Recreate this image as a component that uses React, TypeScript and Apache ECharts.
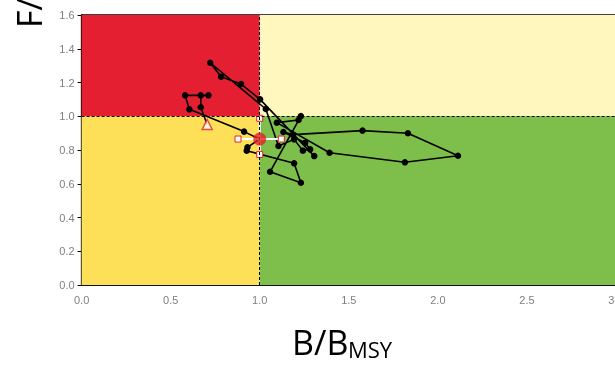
import { useEffect, useRef } from "react";
import * as echarts from "echarts";

// ---- data ----
const xTicks = [0, 0.5, 1, 1.5, 2, 2.5, 3];
const yTicks = [0, 0.2, 0.4, 0.6, 0.8, 1.0, 1.2, 1.4, 1.6];

// trajectory (B/Bmsy, F/Fmsy)
const trajB = [0.705, 0.669, 0.669, 0.712, 0.581, 0.605, 0.912, 1.0, 0.931, 0.927, 1.193, 1.231, 1.058, 1.231, 1.218, 1.096, 1.392, 1.815, 2.113, 1.832, 1.577, 1.186, 1.133, 1.255, 1.283, 1.242, 1.193, 1.105, 1.034, 0.722, 0.783, 0.895, 1.002, 1.306];
const trajF = [0.951, 1.053, 1.124, 1.124, 1.124, 1.041, 0.909, 0.865, 0.816, 0.796, 0.721, 0.606, 0.671, 1.001, 0.978, 0.962, 0.784, 0.727, 0.766, 0.899, 0.915, 0.891, 0.907, 0.843, 0.804, 0.796, 0.863, 0.824, 1.043, 1.317, 1.234, 1.191, 1.1, 0.764];

const startPoint = [0.705, 0.951];
const currentPoint = [1.0, 0.865];
const ciB = [0.878, 1.121];
const ciF = [0.774, 0.988];

const refB = 1.0;
const refF = 1.0;

export default function App() {
  const ref = useRef<HTMLDivElement>(null);
  useEffect(() => {
    if (!ref.current) return;
    const chart = echarts.init(ref.current, null, { renderer: "svg" });
    const trajData = trajB.map((b, i) => {
      const hide = i === 0 || i === 7;
      return hide ? { value: [b, trajF[i]], symbol: "none" } : { value: [b, trajF[i]] };
    });
    const labelStyle = {
      color: "#7f7f7f",
      fontSize: 11,
      fontFamily: "Liberation Sans, Arial, sans-serif",
    };
    chart.setOption({
      animation: false,
      grid: {
        left: 81.6,
        right: -1,
        top: 15,
        bottom: 80,
        show: true,
        borderColor: "#000",
        borderWidth: 1.5,
        containLabel: false,
        outerBoundsMode: "none",
      },
      xAxis: {
        type: "value",
        min: 0,
        max: 3,
        interval: 0.5,
        axisLine: { show: true, lineStyle: { color: "#000", width: 1.5 } },
        axisTick: { show: false },
        splitLine: { show: false },
        axisLabel: { ...labelStyle, margin: 9, formatter: (v: number) => (xTicks.includes(v) ? v.toFixed(1) : "") },
      },
      yAxis: {
        type: "value",
        min: 0,
        max: 1.6,
        interval: 0.2,
        axisLine: { show: true, lineStyle: { color: "#000", width: 1.5 } },
        axisTick: { show: true, length: 4, lineStyle: { color: "#000" } },
        splitLine: { show: false },
        axisLabel: { ...labelStyle, margin: 7, formatter: (v: number) => v.toFixed(1) },
      },
      series: [
        {
          type: "line",
          data: [],
          silent: true,
          markArea: {
            silent: true,
            data: [
              [{ xAxis: 0, yAxis: refF, itemStyle: { color: "#E41F31" } }, { xAxis: refB, yAxis: 1.6 }],
              [{ xAxis: refB, yAxis: refF, itemStyle: { color: "#FFF7BE" } }, { xAxis: 3, yAxis: 1.6 }],
              [{ xAxis: 0, yAxis: 0, itemStyle: { color: "#FDE058" } }, { xAxis: refB, yAxis: refF }],
              [{ xAxis: refB, yAxis: 0, itemStyle: { color: "#7DBF4A" } }, { xAxis: 3, yAxis: refF }],
            ],
          },
          markLine: {
            silent: true,
            symbol: "none",
            label: { show: false },
            lineStyle: { color: "#000", type: [3, 2], width: 1 },
            data: [{ xAxis: refB }, { yAxis: refF }],
          },
        },
        {
          type: "line",
          data: trajData,
          symbol: "circle",
          symbolSize: 6.5,
          lineStyle: { color: "#000", width: 1.6 },
          itemStyle: { color: "#000" },
          z: 3,
        },
        {
          type: "line",
          data: [[ciB[0], currentPoint[1]], [ciB[1], currentPoint[1]]],
          symbol: "rect",
          symbolSize: 6,
          lineStyle: { color: "#fff", width: 2 },
          itemStyle: { color: "#fff", borderColor: "#E32228", borderWidth: 1 },
          z: 4,
        },
        {
          type: "line",
          data: [[currentPoint[0], ciF[0]], [currentPoint[0], ciF[1]]],
          symbol: "rect",
          symbolSize: 6,
          lineStyle: { color: "#fff", width: 2 },
          itemStyle: { color: "#fff", borderColor: "#E32228", borderWidth: 1 },
          z: 4,
        },
        {
          type: "scatter",
          data: [currentPoint],
          symbol: "circle",
          symbolSize: 13,
          itemStyle: { color: "#E32228" },
          z: 5,
        },
        {
          type: "scatter",
          data: [startPoint],
          symbol: "triangle",
          symbolSize: 10,
          itemStyle: { color: "#fff", borderColor: "#E32228", borderWidth: 1.5 },
          z: 5,
        },
      ],
      graphic: [
        {
          type: "text",
          x: 292,
          y: 342,
          style: { text: "B/B", fontSize: 34, fontFamily: "Open Sans", fill: "#000", align: "left", verticalAlign: "middle" },
        },
        {
          type: "text",
          x: 348,
          y: 349,
          style: { text: "MSY", fontSize: 22, fontFamily: "Open Sans", fill: "#000", align: "left", verticalAlign: "middle" },
        },
        {
          type: "group",
          x: 29,
          y: 28,
          rotation: Math.PI / 2,
          children: [
            {
              type: "text",
              x: 0,
              y: 0,
              style: { text: "F/F", fontSize: 34, fontFamily: "Open Sans", fill: "#000", align: "left", verticalAlign: "middle" },
            },
            {
              type: "text",
              x: 56,
              y: 12,
              style: { text: "MSY", fontSize: 22, fontFamily: "Open Sans", fill: "#000", align: "left", verticalAlign: "middle" },
            },
          ],
        },
      ],
    });
    return () => chart.dispose();
  }, []);
  return <div ref={ref} style={{ position: "fixed", left: 0, top: 0, width: 615, height: 365 }} />;
}
